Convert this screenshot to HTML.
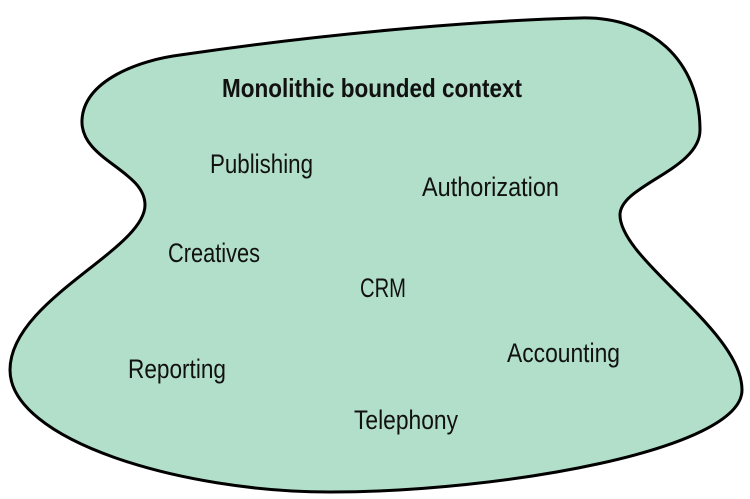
<!DOCTYPE html>
<html><head><meta charset="utf-8"><style>
html,body{margin:0;padding:0;background:#fff;width:750px;height:499px;overflow:hidden}
svg text{font-family:"Liberation Sans",sans-serif;fill:#111}
</style></head><body>
<svg width="750" height="499" viewBox="0 0 750 499">
<path d="M180,55 C350,30 500,20 580,18 C650,16 700,60 700,130 C700,170 620,185 620,215 C620,260 742,330 742,390 C742,450 500,492 330,492 C180,492 10,440 10,370 C10,300 145,250 145,205 C145,170 80,160 82,120 C84,80 140,60 180,55 Z" fill="#b2dfca" stroke="#000" stroke-width="3"/>
<text x="222" y="97" font-size="26" font-weight="bold" textLength="300" lengthAdjust="spacingAndGlyphs">Monolithic bounded context</text>
<g font-size="27">
<text x="210" y="173" textLength="103" lengthAdjust="spacingAndGlyphs">Publishing</text>
<text x="422" y="196" textLength="137" lengthAdjust="spacingAndGlyphs">Authorization</text>
<text x="168" y="262" textLength="92" lengthAdjust="spacingAndGlyphs">Creatives</text>
<text x="360" y="297" textLength="46" lengthAdjust="spacingAndGlyphs">CRM</text>
<text x="128" y="378" textLength="98" lengthAdjust="spacingAndGlyphs">Reporting</text>
<text x="507" y="362" textLength="113" lengthAdjust="spacingAndGlyphs">Accounting</text>
<text x="354" y="429" textLength="104" lengthAdjust="spacingAndGlyphs">Telephony</text>
</g>
</svg>
</body></html>
